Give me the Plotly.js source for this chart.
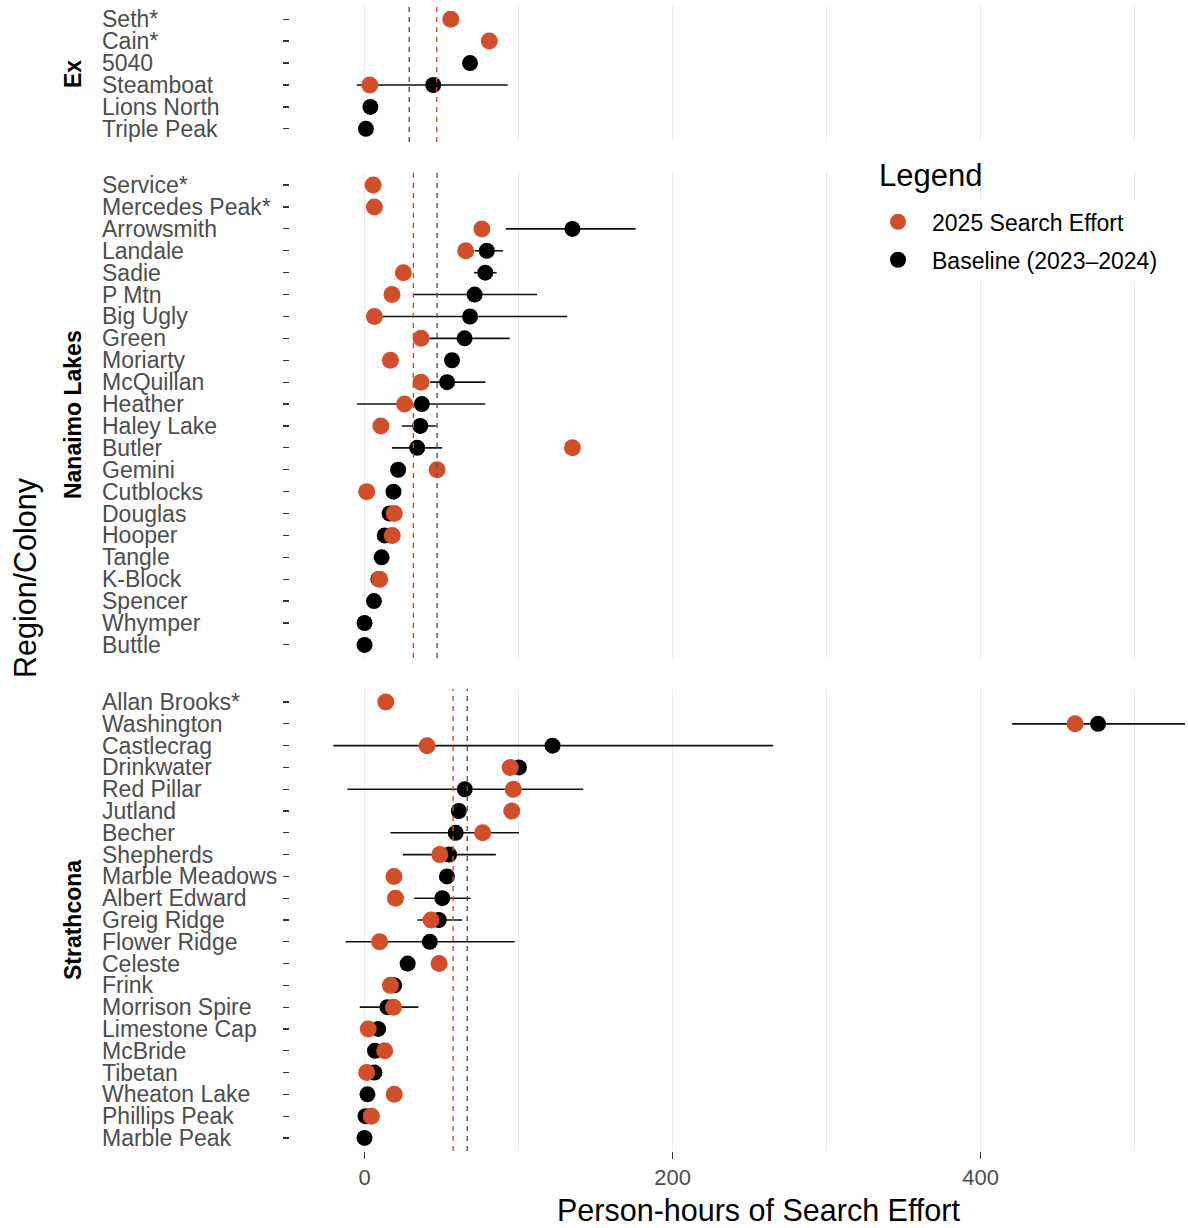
<!DOCTYPE html>
<html>
<head>
<meta charset="utf-8">
<script src="https://cdn.plot.ly/plotly-3.0.1.min.js"></script>
<style>
  html, body { margin: 0; padding: 0; background: #ffffff; }
  #chart { width: 1188px; height: 1228px; }
</style>
</head>
<body>
<div id="chart"></div>
<script>
// Person-hours of search effort per colony: 2025 vs. 2023–2024 baseline (mean with range)

const regions = ['Ex', 'Nanaimo Lakes', 'Strathcona'];

// --- Ex ---
const exColonies = ['Seth*', 'Cain*', '5040', 'Steamboat', 'Lions North', 'Triple Peak'];
const exEffort2025 = [56, 81, null, 3.4, null, null];
const exBaseline   = [null, null, 68.5, 44.6, 3.8, 0.9];
const exBaseLow    = [null, null, null, -5, null, null];
const exBaseHigh   = [null, null, null, 93, null, null];

// --- Nanaimo Lakes ---
const nlColonies = ['Service*', 'Mercedes Peak*', 'Arrowsmith', 'Landale', 'Sadie', 'P Mtn',
  'Big Ugly', 'Green', 'Moriarty', 'McQuillan', 'Heather', 'Haley Lake', 'Butler', 'Gemini',
  'Cutblocks', 'Douglas', 'Hooper', 'Tangle', 'K-Block', 'Spencer', 'Whymper', 'Buttle'];
const nlEffort2025 = [5.6, 6.4, 76.2, 65.7, 25.2, 17.8, 6.4, 36.7, 16.8, 36.7, 26, 10.6, 135,
  47.1, 1.4, 19.3, 18, null, 9.8, null, null, null];
const nlBaseline   = [null, null, 135, 79.4, 78.4, 71.5, 68.5, 65, 56.8, 53.6, 37.2, 36.2, 34.2,
  21.8, 18.8, 16.3, 13.1, 11.1, 9, 6.1, 0, 0];
const nlBaseLow    = [null, null, 91.8, 71.5, 71, 32.2, 6.8, 42, null, 42.6, -5, 24.2, 17.8,
  null, null, null, null, null, null, null, null, null];
const nlBaseHigh   = [null, null, 176, 89.9, 85.8, 112, 131.6, 94.3, null, 78.4, 78.4, 46.6, 50.3,
  null, null, null, null, null, null, null, null, null];

// --- Strathcona ---
const stColonies = ['Allan Brooks*', 'Washington', 'Castlecrag', 'Drinkwater', 'Red Pillar',
  'Jutland', 'Becher', 'Shepherds', 'Marble Meadows', 'Albert Edward', 'Greig Ridge',
  'Flower Ridge', 'Celeste', 'Frink', 'Morrison Spire', 'Limestone Cap', 'McBride', 'Tibetan',
  'Wheaton Lake', 'Phillips Peak', 'Marble Peak'];
const stEffort2025 = [13.8, 461.4, 40.6, 94.6, 96.6, 95.6, 76.7, 48.9, 19.1, 20.1, 43.2, 9.8,
  48.4, 16.8, 18.8, 2.4, 13.1, 1.4, 19.3, 4.4, null];
const stBaseline   = [null, 476.3, 122.1, 100.3, 65.1, 61.2, 59.2, 54.9, 53.5, 50.5, 48.2, 42.4,
  28, 19.3, 14.8, 8.8, 6.8, 6.4, 1.9, 0.6, 0];
const stBaseLow    = [null, 420.5, -20.3, null, -11.1, null, 16.8, 25, null, 32.3, 34.3, -12.3,
  null, null, -3.1, null, null, null, null, null, null];
const stBaseHigh   = [null, 532.8, 265.3, null, 142, null, 100.3, 85.3, null, 68.8, 63.5, 97.5,
  null, null, 34.9, null, null, null, null, null, null];

// Regional averages shown as dashed reference lines
const regionMean2025     = [46.9, 31.7, 57.5];
const regionMeanBaseline = [29.0, 47.1, 66.7];

const xTickVals = [0, 200, 400];

// ---------------------------------------------------------------------------
const RED = '#D24E2A';
const FONT = 'Liberation Sans, Arial, Helvetica, sans-serif';
const GRID = '#EBEBEB';

const facets = [
  { colonies: exColonies, cur: exEffort2025, base: exBaseline, lo: exBaseLow, hi: exBaseHigh },
  { colonies: nlColonies, cur: nlEffort2025, base: nlBaseline, lo: nlBaseLow, hi: nlBaseHigh },
  { colonies: stColonies, cur: stEffort2025, base: stBaseline, lo: stBaseLow, hi: stBaseHigh }
];

// vertical placement of the three panels (paper fractions)
const domains = [[0.8766, 0.9948], [0.4283, 0.8506], [0.0, 0.4014]];
const labelX = -0.2115;   // left edge of colony labels

const traces = [];
const shapes = [];
const annotations = [];
const layout = {
  width: 1188, height: 1228,
  margin: { l: 290, r: 0, t: 0, b: 77 },
  paper_bgcolor: '#ffffff', plot_bgcolor: '#ffffff',
  font: { family: FONT, color: '#000000' },
  showlegend: true,
  legend: {
    x: 0.6392, y: 0.8259, xanchor: 'left', yanchor: 'top',
    bgcolor: '#ffffff',
    font: { size: 23, color: '#000000' },
    itemwidth: 58,
    tracegroupgap: 5,
    traceorder: 'grouped'
  }
};

facets.forEach((f, i) => {
  const s = i === 0 ? '' : String(i + 1);
  const xa = 'x' + s, ya = 'y' + s;
  const n = f.colonies.length;

  const plus  = f.hi.map((h, k) => (h == null ? null : h - f.base[k]));
  const minus = f.lo.map((l, k) => (l == null ? null : f.base[k] - l));

  traces.push({
    type: 'scatter', mode: 'markers',
    x: f.base, y: f.colonies, xaxis: xa, yaxis: ya,
    name: 'Baseline (2023–2024)', legendgroup: 'base', legendrank: 2,
    showlegend: i === 0,
    marker: { color: '#000000', size: 16 },
    error_x: { type: 'data', symmetric: false, array: plus, arrayminus: minus,
               width: 0, thickness: 1.6, color: '#111111' },
    hoverinfo: 'x+y'
  });
  traces.push({
    type: 'scatter', mode: 'markers',
    x: f.cur, y: f.colonies, xaxis: xa, yaxis: ya,
    name: '2025 Search Effort', legendgroup: 'cur', legendrank: 1,
    showlegend: i === 0,
    marker: { color: RED, size: 17 },
    hoverinfo: 'x+y'
  });

  layout['xaxis' + s] = {
    anchor: ya,
    domain: [0, 1],
    range: [-48.4, 534.7],
    matches: i === 0 ? undefined : 'x',
    tickmode: 'array', tickvals: xTickVals,
    showgrid: true, gridcolor: GRID, gridwidth: 1.1,
    minor: { dtick: 100, tick0: 0, showgrid: true, gridcolor: GRID, gridwidth: 1 },
    zeroline: false, showline: false,
    ticks: i === 2 ? 'outside' : '', ticklen: 7, tickwidth: 1.2, tickcolor: '#333333',
    showticklabels: i === 2,
    tickfont: { size: 22, color: '#4D4D4D' },
    fixedrange: true
  };
  layout['yaxis' + s] = {
    anchor: xa,
    domain: domains[i],
    type: 'category',
    categoryorder: 'array', categoryarray: f.colonies,
    range: [n - 0.4, -0.6],
    showgrid: false, zeroline: false, showline: false,
    ticks: 'outside', ticklen: 6, tickwidth: 1.2, tickcolor: '#333333',
    showticklabels: false,
    fixedrange: true
  };

  // left-aligned colony labels (placed by category position)
  f.colonies.forEach((c, k) => {
    annotations.push({
      xref: 'paper', yref: ya, x: labelX, y: k,
      xanchor: 'left', yanchor: 'middle', showarrow: false,
      text: c, font: { size: 23, color: '#4D4D4D', family: FONT }
    });
  });

  // region strip label
  annotations.push({
    xref: 'paper', yref: ya + ' domain', x: -0.2416, y: 0.5,
    xanchor: 'center', yanchor: 'middle', showarrow: false, textangle: -90,
    text: '<b>' + regions[i] + '</b>', font: { size: 23, color: '#000000', family: FONT }
  });

  // dashed regional means
  shapes.push({
    type: 'line', xref: xa, yref: ya + ' domain',
    x0: regionMeanBaseline[i], x1: regionMeanBaseline[i], y0: 0, y1: 1,
    line: { color: '#555555', width: 1.4, dash: '5px,5px' }
  });
  shapes.push({
    type: 'line', xref: xa, yref: ya + ' domain',
    x0: regionMean2025[i], x1: regionMean2025[i], y0: 0, y1: 1,
    line: { color: RED, width: 1.4, dash: '5px,5px' }
  });
});

// legend heading
annotations.push({
  xref: 'paper', yref: 'paper', x: 0.6537, y: 0.8471,
  xanchor: 'left', yanchor: 'middle', showarrow: false,
  text: 'Legend', font: { size: 31, color: '#000000', family: FONT }
});

// axis titles
annotations.push({
  xref: 'paper', yref: 'paper', x: 0.5212, y: -0.0513,
  xanchor: 'center', yanchor: 'middle', showarrow: false,
  text: 'Person-hours of Search Effort', font: { size: 30.5, color: '#000000', family: FONT }
});
annotations.push({
  xref: 'paper', yref: 'paper', x: -0.2951, y: 0.4978,
  xanchor: 'center', yanchor: 'middle', showarrow: false, textangle: -90,
  text: 'Region/Colony', font: { size: 30.5, color: '#000000', family: FONT }
});

layout.shapes = shapes;
layout.annotations = annotations;

Plotly.newPlot('chart', traces, layout, { displayModeBar: false, staticPlot: true });
</script>
</body>
</html>
